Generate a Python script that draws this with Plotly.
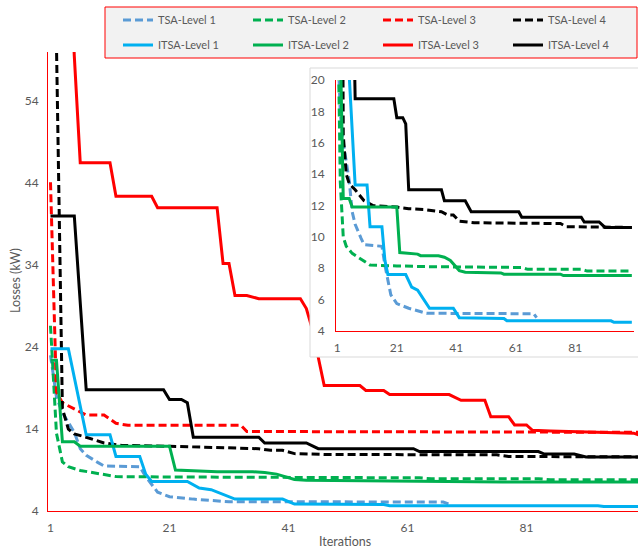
import plotly.graph_objects as go

# ---------------- data ----------------
x_ticks = [1, 21, 41, 61, 81]
main_y_ticks = [4, 14, 24, 34, 44, 54]
inset_y_ticks = [4, 6, 8, 10, 12, 14, 16, 18, 20]

# TSA-Level 1 (dashed light blue)
tsa1_it = [1, 2, 3, 4, 5, 6, 7, 9, 10, 16, 17, 19, 21, 25, 31, 67, 68]
tsa1_loss = [23.0, 17.9, 16.0, 14.8, 13.6, 11.6, 10.8, 9.9, 9.5, 9.4, 8.2, 6.3, 5.75, 5.45, 5.13, 5.1, 4.85]

# TSA-Level 2 (dashed green)
tsa2_it = [1, 2, 3, 4, 6, 9, 12, 21, 32, 63, 65, 83, 85, 100]
tsa2_loss = [26.6, 13.5, 10.0, 9.4, 8.95, 8.6, 8.2, 8.15, 8.1, 8.05, 7.93, 7.93, 7.82, 7.82]

# TSA-Level 3 (dashed red)
tsa3_it = [1, 2, 3, 5, 7, 10, 12, 14, 33, 34, 100]
tsa3_loss = [44.1, 18.5, 17.2, 16.4, 15.7, 15.7, 14.7, 14.45, 14.45, 13.7, 13.6]

# TSA-Level 4 (dashed black)
tsa4_it = [1, 2, 3, 4, 5, 7, 10, 13, 21, 25, 30, 36, 38, 40, 42, 47, 76, 78, 100]
tsa4_loss = [95, 61, 16.5, 14.0, 13.4, 13.0, 12.3, 12.0, 11.9, 11.8, 11.75, 11.6, 11.4, 11.4, 11.0, 10.9, 10.85, 10.65, 10.6]

# ITSA-Level 1 (solid cyan)
itsa1_it = [1, 4, 7, 11, 12, 16, 17, 18, 24, 26, 28, 32, 40, 42, 57, 58, 93, 94, 100]
itsa1_loss = [23.8, 23.8, 13.3, 13.3, 10.65, 10.65, 8.5, 7.6, 7.6, 6.8, 6.6, 5.45, 5.45, 4.85, 4.8, 4.65, 4.65, 4.55, 4.55]

# ITSA-Level 2 (solid green)
itsa2_it = [1, 2, 3, 5, 6, 21, 22, 28, 29, 35, 37, 39, 42, 44, 56, 57, 76, 77, 100]
itsa2_loss = [22.4, 22.4, 12.45, 12.45, 11.9, 11.9, 9.0, 8.9, 8.8, 8.8, 8.7, 8.5, 7.85, 7.75, 7.7, 7.62, 7.62, 7.53, 7.53]

# ITSA-Level 3 (solid red)
itsa3_it = [1, 4, 5, 6, 11, 12, 18, 19, 29, 30, 31, 32, 34, 36, 43, 44, 45, 46, 47, 53, 54, 57, 58,
            68, 70, 74, 75, 78, 79, 81, 82, 85, 91, 99, 100]
itsa3_loss = [80, 76, 59.5, 46.5, 46.5, 42.4, 42.4, 41.0, 41.0, 34.2, 34.2, 30.3, 30.3, 29.9, 29.9, 28.7,
              26.2, 22.8, 19.3, 19.3, 18.7, 18.7, 18.2, 18.2, 17.5, 17.5, 15.5, 15.5, 14.5, 14.5, 13.85,
              13.75, 13.65, 13.5, 13.25]

# ITSA-Level 4 (solid black)
itsa4_it = [1, 5, 7, 20, 21, 23, 24, 25, 36, 37, 44, 46, 62, 63, 83, 84, 89, 91, 100]
itsa4_loss = [40, 40, 18.8, 18.8, 17.6, 17.6, 17.2, 13.0, 13.0, 12.3, 12.3, 11.6, 11.6, 11.25, 11.25,
              10.95, 10.95, 10.6, 10.6]

# ---------------- styling ----------------
FONT = "Lato"
GREY = "#595959"
DASH = "8px,4px"
LW = 3

series = [
    ("TSA-Level 1", tsa1_it, tsa1_loss, "#5b9bd5", DASH, "legend", True),
    ("TSA-Level 2", tsa2_it, tsa2_loss, "#00b050", DASH, "legend", True),
    ("TSA-Level 3", tsa3_it, tsa3_loss, "#ff0000", DASH, "legend", False),
    ("TSA-Level 4", tsa4_it, tsa4_loss, "#000000", DASH, "legend", True),
    ("ITSA-Level 1", itsa1_it, itsa1_loss, "#00b0f0", "solid", "legend2", True),
    ("ITSA-Level 2", itsa2_it, itsa2_loss, "#00b050", "solid", "legend2", True),
    ("ITSA-Level 3", itsa3_it, itsa3_loss, "#ff0000", "solid", "legend2", False),
    ("ITSA-Level 4", itsa4_it, itsa4_loss, "#000000", "solid", "legend2", True),
]

fig = go.Figure()

# main chart
for name, xs, ys, col, dash, leg, _ in series:
    fig.add_trace(go.Scatter(
        x=xs, y=ys, name=name, mode="lines",
        line=dict(color=col, width=LW, dash=dash),
        legend=leg, xaxis="x", yaxis="y", hoverinfo="skip"))

# white box behind inset (covers main lines)
fig.add_trace(go.Scatter(x=[None], y=[None], xaxis="x2", yaxis="y2",
                         showlegend=False, hoverinfo="skip"))

# inset chart
for name, xs, ys, col, dash, leg, in_inset in series:
    if not in_inset:
        continue
    fig.add_trace(go.Scatter(
        x=xs, y=ys, name=name, mode="lines",
        line=dict(color=col, width=LW, dash=dash),
        showlegend=False, xaxis="x3", yaxis="y3", hoverinfo="skip"))

W, H = 638, 548
L, R, T, B = 48, 0, 52, 37
PW, PH = W - L - R, H - T - B


def px(xp):
    return (xp - L) / PW


def py(yp):
    return (H - B - yp) / PH


tickfont = dict(family=FONT, size=12, color=GREY)

fig.update_layout(
    width=W, height=H, autosize=False,
    margin=dict(l=L, r=R, t=T, b=B, pad=0),
    paper_bgcolor="white", plot_bgcolor="white",
    font=dict(family=FONT, color=GREY),
    xaxis=dict(range=[0.58, 99.74], tickvals=x_ticks, showline=True, linecolor="#ff0000",
               linewidth=1, showgrid=False, zeroline=False, ticks="", tickfont=tickfont,
               ticklabelstandoff=6, domain=[0, 1]),
    yaxis=dict(range=[4, 60], tickvals=main_y_ticks, showline=True, linecolor="#ff0000",
               linewidth=1, showgrid=False, zeroline=False, ticks="", tickfont=tickfont,
               ticklabelstandoff=6, domain=[0, 1]),
    xaxis2=dict(domain=[px(310), 1.0], anchor="y2", range=[0, 1], visible=False),
    yaxis2=dict(domain=[py(357), py(68)], anchor="x2", range=[0, 1], visible=False),
    xaxis3=dict(domain=[px(336), px(634)], anchor="y3", range=[0.563, 100.73], tickvals=x_ticks,
                showline=True, linecolor="#ff0000", linewidth=1, showgrid=False, zeroline=False,
                ticks="", tickfont=tickfont, ticklabelstandoff=6),
    yaxis3=dict(domain=[py(331), py(80)], anchor="x3", range=[4, 20], tickvals=inset_y_ticks,
                showline=True, linecolor="#ff0000", linewidth=1, showgrid=False, zeroline=False,
                ticks="", tickfont=tickfont, ticklabelstandoff=8),
    legend=dict(orientation="h", x=px(118), xanchor="left", y=py(20), yanchor="middle",
                bgcolor="rgba(0,0,0,0)", borderwidth=0, entrywidth=85, entrywidthmode="pixels",
                font=dict(family=FONT, size=11, color=GREY)),
    legend2=dict(orientation="h", x=px(118), xanchor="left", y=py(45), yanchor="middle",
                 bgcolor="rgba(0,0,0,0)", borderwidth=0, entrywidth=85, entrywidthmode="pixels",
                 font=dict(family=FONT, size=11, color=GREY)),
    shapes=[
        dict(type="rect", xref="paper", yref="paper", x0=px(105), x1=px(637), y0=py(58), y1=py(7),
             fillcolor="#f2f2f2", line=dict(color="#ff0000", width=1), layer="above"),
        dict(type="rect", xref="paper", yref="paper", x0=px(310), x1=1.005, y0=py(357), y1=py(68),
             fillcolor="rgba(0,0,0,0)", line=dict(color="#d9d9d9", width=1), layer="above"),
    ],
    annotations=[
        dict(text="Iterations", xref="paper", yref="paper", x=px(345), y=py(541), showarrow=False,
             xanchor="center", yanchor="middle", font=dict(family=FONT, size=12.5, color=GREY)),
        dict(text="Losses (kW)", xref="paper", yref="paper", x=px(15), y=py(281), showarrow=False,
             textangle=-90, xanchor="center", yanchor="middle",
             font=dict(family=FONT, size=12.5, color=GREY)),
    ],
)

fig.write_html("out.html")
